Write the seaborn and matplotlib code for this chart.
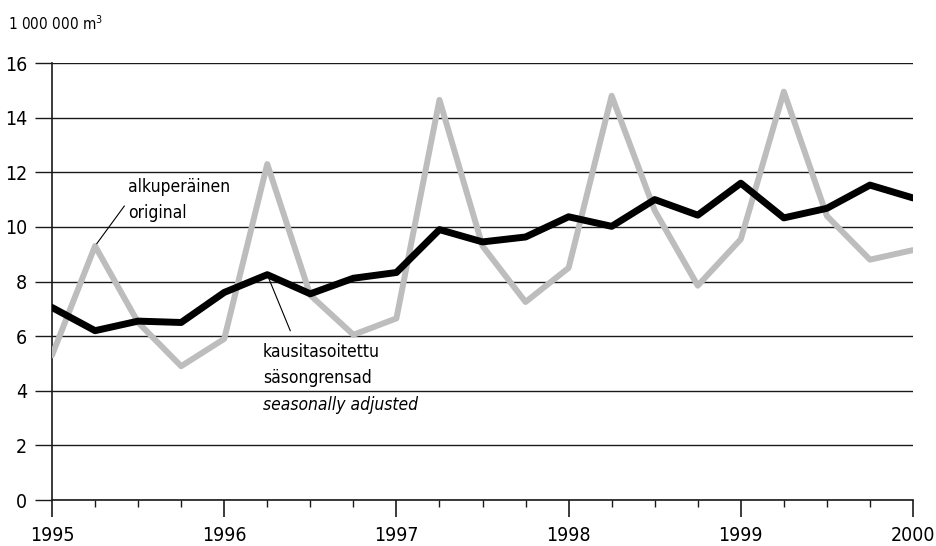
import numpy as np
import pandas as pd
import seaborn as sns
import matplotlib.pyplot as plt
from matplotlib.ticker import MultipleLocator

### Datos (trimestres 1995-2000)
kvartaalit = [1995.0, 1995.25, 1995.5, 1995.75,
              1996.0, 1996.25, 1996.5, 1996.75,
              1997.0, 1997.25, 1997.5, 1997.75,
              1998.0, 1998.25, 1998.5, 1998.75,
              1999.0, 1999.25, 1999.5, 1999.75,
              2000.0]
alkuperainen = [5.3, 9.3, 6.5, 4.9,
                5.9, 12.3, 7.5, 6.05,
                6.65, 14.65, 9.3, 7.25,
                8.5, 14.8, 10.6, 7.85,
                9.55, 14.95, 10.4, 8.8,
                9.15]
kausitasoitettu = [7.05, 6.2, 6.55, 6.5,
                   7.6, 8.25, 7.55, 8.12,
                   8.33, 9.9, 9.45, 9.63,
                   10.37, 10.02, 11.0, 10.43,
                   11.6, 10.33, 10.68, 11.53,
                   11.06]
vuodet = [1995, 1996, 1997, 1998, 1999, 2000]
y_ticks = [0, 2, 4, 6, 8, 10, 12, 14, 16]

df = pd.DataFrame({"aika": kvartaalit,
                   "alkuperainen": alkuperainen,
                   "kausitasoitettu": kausitasoitettu})

sns.set_style("white")
plt.rcParams['font.family'] = ['DejaVu Sans']
plt.rcParams['font.stretch'] = 'condensed'
plt.rcParams['text.color'] = 'black'
plt.rcParams['xtick.color'] = 'black'
plt.rcParams['ytick.color'] = 'black'

fig = plt.figure(figsize=(9.37, 5.46), dpi=100)
ax = fig.add_axes([0.0555, 0.0842, 0.9189, 0.8004])

# lineas de cuadricula
for v in y_ticks:
    ax.axhline(v, color="#1a1a1a", lw=1.0, zorder=1)

sns.lineplot(data=df, x="aika", y="alkuperainen", ax=ax, color="#bdbdbd",
             lw=4.3, zorder=3)
sns.lineplot(data=df, x="aika", y="kausitasoitettu", ax=ax, color="black",
             lw=5, zorder=4)

ax.set_xlim(1995, 2000)
ax.set_ylim(0, 16)
ax.set_xticks(vuodet)
ax.xaxis.set_minor_locator(MultipleLocator(0.25))
ax.set_yticks(y_ticks)
ax.set_xlabel("")
ax.set_ylabel("")

for s in ["top", "right"]:
    ax.spines[s].set_visible(False)
for s in ["left", "bottom"]:
    ax.spines[s].set_color("#1a1a1a")
    ax.spines[s].set_linewidth(1.2)

ax.tick_params(axis="x", which="major", length=12, width=1.2, direction="out",
               labelsize=14, pad=7, color="#1a1a1a", bottom=True)
ax.tick_params(axis="x", which="minor", length=5, width=1.0, direction="out",
               color="#1a1a1a", bottom=True)
ax.tick_params(axis="y", length=12, width=1.0, direction="out", labelsize=14,
               pad=6, color="#1a1a1a", left=True)

# anotaciones
ax.annotate("", xy=(1995.25, 9.3), xytext=(1995.43, 10.85),
            arrowprops=dict(arrowstyle="-", color="black", lw=0.8), zorder=5)
ax.text(1995.44, 11.45, "alkuperäinen", fontsize=12.5, va="center", ha="left")
ax.text(1995.44, 10.52, "original", fontsize=12.5, va="center", ha="left")

ax.annotate("", xy=(1996.25, 8.25), xytext=(1996.39, 6.1),
            arrowprops=dict(arrowstyle="-", color="black", lw=0.8), zorder=5)
ax.text(1996.225, 5.42, "kausitasoitettu", fontsize=12.5, va="center", ha="left")
ax.text(1996.225, 4.47, "säsongrensad", fontsize=12.5, va="center", ha="left")
ax.text(1996.225, 3.48, "seasonally adjusted", fontsize=12.5, va="center",
        ha="left", style="italic")

fig.text(0.009, 0.957, "1 000 000 m$^3$", fontsize=11, va="center", ha="left")

plt.savefig("out.png", dpi=100)
